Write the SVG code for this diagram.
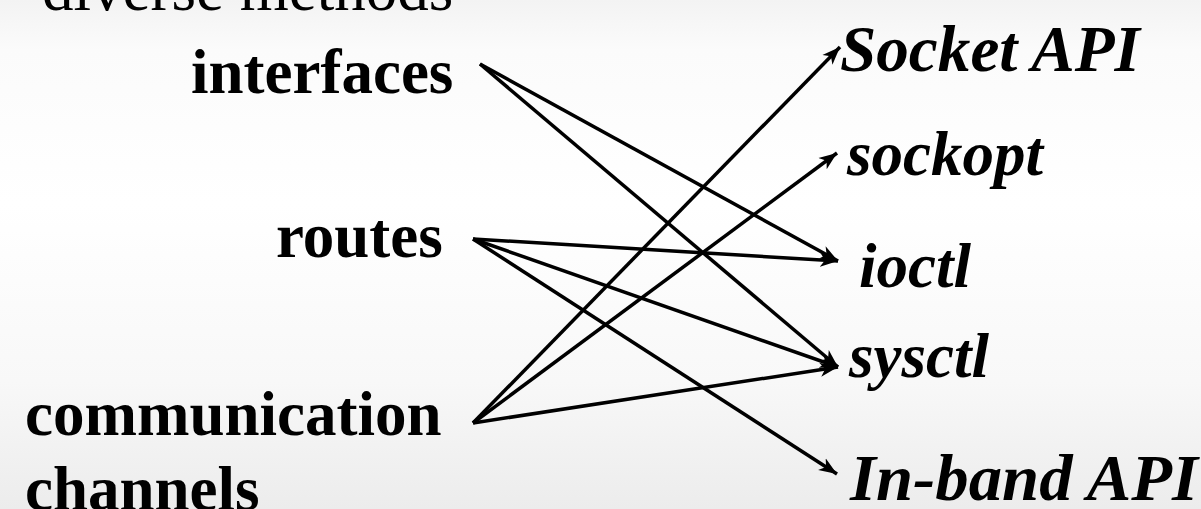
<svg xmlns="http://www.w3.org/2000/svg" width="1201" height="509" viewBox="0 0 1201 509">
  <defs>
    <linearGradient id="bg" x1="0" y1="0" x2="0" y2="1">
      <stop offset="0" stop-color="#f3f3f3"/>
      <stop offset="0.1" stop-color="#fbfbfb"/>
      <stop offset="0.4" stop-color="#ffffff"/>
      <stop offset="0.75" stop-color="#f8f8f8"/>
      <stop offset="1" stop-color="#ececec"/>
    </linearGradient>
    <marker id="arrow" markerUnits="userSpaceOnUse" markerWidth="20" markerHeight="16" refX="18" refY="8" orient="auto">
      <path d="M0,1 L18,8 L0,15 L5,8 Z" fill="#000"/>
    </marker>
    <style>
      .src { font-family: "Liberation Serif", "Times New Roman", serif; font-weight: bold; font-size: 63px; fill: #000; }
      .dst { font-family: "Liberation Serif", "Times New Roman", serif; font-weight: bold; font-style: italic; font-size: 63px; fill: #000; }
      .big { font-size: 65px; }
      .title { font-family: "Liberation Serif", "Times New Roman", serif; font-size: 63px; fill: #000; }
      .edge { stroke: #000; stroke-width: 3.5; fill: none; marker-end: url(#arrow); }
    </style>
  </defs>
  <rect x="0" y="0" width="1201" height="509" fill="url(#bg)"/>
  <text class="title" x="42" y="10">diverse methods</text>

  <g id="interfaces"><text class="src" x="191" y="93">interfaces</text></g>
  <g id="routes"><text class="src" x="276" y="257">routes</text></g>
  <g id="communication-channels">
    <text class="src" x="25" y="435">communication</text>
    <text class="src" x="25" y="510">channels</text>
  </g>

  <g id="socket-api"><text class="dst big" x="840" y="71" textLength="300" lengthAdjust="spacingAndGlyphs">Socket API</text></g>
  <g id="sockopt"><text class="dst" x="847" y="175">sockopt</text></g>
  <g id="ioctl"><text class="dst" x="859" y="287">ioctl</text></g>
  <g id="sysctl"><text class="dst" x="849" y="377">sysctl</text></g>
  <g id="in-band-api"><text class="dst big" x="850" y="500" textLength="348" lengthAdjust="spacingAndGlyphs">In-band API</text></g>

  <g id="connectors">
    <line class="edge" x1="480" y1="64" x2="838" y2="261"/>
    <line class="edge" x1="480" y1="64" x2="838" y2="367"/>
    <line class="edge" x1="473" y1="239" x2="838" y2="261"/>
    <line class="edge" x1="473" y1="239" x2="838" y2="367"/>
    <line class="edge" x1="473" y1="239" x2="837" y2="474"/>
    <line class="edge" x1="473" y1="423" x2="840" y2="47"/>
    <line class="edge" x1="473" y1="423" x2="837" y2="153"/>
    <line class="edge" x1="473" y1="423" x2="838" y2="367"/>
  </g>
</svg>
